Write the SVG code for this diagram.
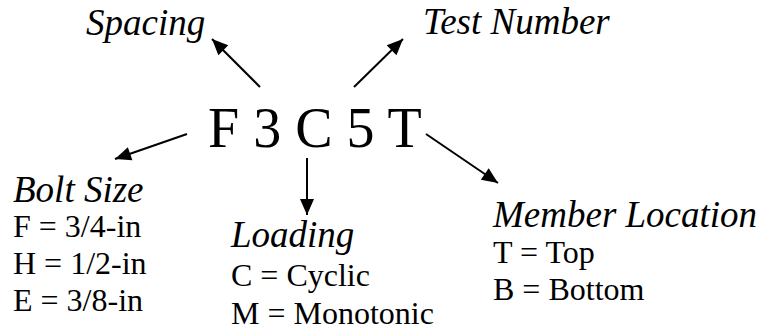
<svg xmlns="http://www.w3.org/2000/svg" width="762" height="333" viewBox="0 0 762 333">
<defs>
<marker id="ah" viewBox="0 0 16 14" refX="16" refY="7" markerWidth="16" markerHeight="14" markerUnits="userSpaceOnUse" orient="auto" overflow="visible">
<path d="M0,0 L16,7 L0,14 Z" fill="#000"/>
</marker>
<style>
text{font-family:"Liberation Serif","Times New Roman",serif;fill:#000}
.h{font-style:italic;font-size:37px}
.b{font-size:32px}
.code{font-size:56px}
.c line{stroke:#000;stroke-width:2;marker-end:url(#ah)}
</style>
</defs>
<rect width="762" height="333" fill="#fff"/>
<g id="code"><text class="code" x="208" y="147">F 3 C 5 T</text></g>
<g id="spacing"><text class="h" x="86" y="35">Spacing</text></g>
<g id="testnumber"><text class="h" x="423" y="34">Test Number</text></g>
<g id="boltsize"><text class="h" x="13" y="202">Bolt Size</text>
<text class="b" x="13" y="237">F = 3/4-in</text>
<text class="b" x="13" y="274">H = 1/2-in</text>
<text class="b" x="13" y="311">E = 3/8-in</text></g>
<g id="loading"><text class="h" x="231" y="247">Loading</text>
<text class="b" x="231" y="286">C = Cyclic</text>
<text class="b" x="231" y="324">M = Monotonic</text></g>
<g id="memberlocation"><text class="h" x="493" y="227">Member Location</text>
<text class="b" x="493" y="263">T = Top</text>
<text class="b" x="493" y="300">B = Bottom</text></g>
<g class="c" id="connectors">
<line x1="260" y1="87" x2="212" y2="39"/>
<line x1="354" y1="87" x2="403" y2="39"/>
<line x1="187" y1="134" x2="115" y2="159"/>
<line x1="307" y1="158" x2="307" y2="215"/>
<line x1="426" y1="134" x2="498" y2="183"/>
</g>
</svg>
